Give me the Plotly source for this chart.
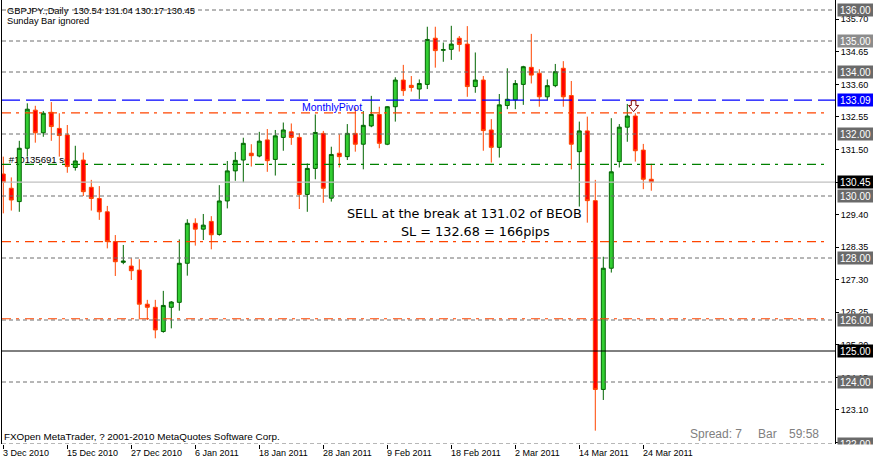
import plotly.graph_objects as go

# ---------------- data ----------------
opens = [130.71, 130.25, 129.82, 131.54, 132.77, 132.04, 132.70, 132.18, 131.97, 130.92,
         131.16, 130.28, 129.92, 129.49, 128.53, 127.86, 127.74, 127.61, 126.51, 126.41,
         125.63, 126.41, 126.57, 127.83, 129.12, 128.93, 129.18, 128.76, 129.84, 130.81,
         131.16, 131.38, 131.29, 131.81, 131.18, 131.89, 132.07, 131.89, 130.05, 130.89,
         132.02, 129.93, 131.38, 131.27, 132.02, 131.67, 132.26, 132.63, 131.67, 132.88,
         133.74, 133.57, 133.45, 133.60, 135.09, 134.70, 134.73, 135.09, 134.90, 133.53,
         133.74, 132.13, 131.57, 132.92, 133.10, 133.60, 134.15, 133.96, 133.20, 133.56,
         134.12, 133.24, 131.43, 132.10, 129.85, 123.76, 127.67, 131.11, 132.22, 132.58,
         131.48, 130.54]
highs = [131.27, 130.60, 131.78, 132.99, 132.91, 132.74, 133.03, 132.67, 132.29, 131.62,
         131.40, 130.52, 130.32, 129.68, 128.74, 128.42, 127.99, 127.96, 126.65, 126.65,
         126.94, 126.61, 128.60, 129.25, 129.28, 129.42, 129.35, 130.35, 131.13, 131.42,
         131.88, 131.67, 132.07, 132.16, 132.13, 132.37, 132.34, 132.02, 131.05, 132.63,
         132.10, 131.59, 131.99, 132.32, 132.85, 132.74, 133.23, 132.88, 132.90, 133.83,
         134.23, 133.87, 133.76, 135.46, 135.46, 134.95, 135.49, 135.16, 135.48, 134.63,
         133.87, 132.48, 133.29, 134.12, 133.74, 134.20, 135.23, 134.09, 133.76, 134.26,
         134.35, 133.71, 132.40, 132.56, 130.52, 128.04, 132.51, 132.32, 132.97, 132.67,
         131.68, 131.04]
lows = [129.44, 129.53, 129.49, 131.27, 131.72, 131.91, 131.78, 131.27, 130.75, 130.82,
        130.00, 129.53, 129.23, 128.31, 127.42, 127.80, 127.29, 126.02, 126.00, 125.41,
        125.59, 125.73, 126.30, 127.43, 128.40, 128.58, 128.28, 128.72, 129.60, 130.49,
        130.44, 130.95, 131.25, 130.78, 130.66, 131.46, 131.65, 129.58, 129.49, 130.54,
        129.78, 129.82, 130.92, 131.16, 131.43, 130.86, 132.22, 131.54, 131.64, 132.40,
        133.23, 133.37, 133.13, 133.45, 134.14, 134.33, 134.39, 134.66, 133.20, 133.33,
        131.46, 131.08, 131.24, 132.80, 132.80, 132.94, 133.63, 132.88, 133.10, 133.51,
        132.88, 130.86, 129.66, 129.14, 122.43, 123.42, 127.53, 130.92, 131.75, 131.11,
        130.22, 130.17]
closes = [130.44, 129.87, 131.54, 132.80, 132.04, 132.67, 132.24, 131.95, 130.95, 131.13,
          130.14, 129.92, 129.49, 128.53, 127.88, 127.90, 127.59, 126.51, 126.41, 125.68,
          126.47, 126.58, 127.83, 129.12, 128.93, 129.06, 128.75, 129.84, 130.81, 131.15,
          131.70, 131.30, 131.77, 131.14, 131.94, 132.13, 131.89, 130.05, 130.89, 132.05,
          130.25, 131.34, 131.27, 132.02, 131.67, 132.28, 132.63, 131.70, 132.88, 133.74,
          133.40, 133.50, 133.63, 135.05, 134.69, 134.72, 134.90, 134.89, 133.53, 133.74,
          132.11, 131.57, 132.94, 133.12, 133.63, 134.17, 133.90, 133.20, 133.56, 134.01,
          133.20, 131.67, 132.10, 129.85, 123.76, 127.67, 130.78, 132.22, 132.58, 131.46,
          130.54, 130.45]
bar_index = list(range(len(opens)))

date_tick_index = [0, 8, 16, 24, 32, 40, 48, 56, 64, 72, 80]
date_tick_labels = ["3 Dec 2010", "15 Dec 2010", "27 Dec 2010", "6 Jan 2011", "18 Jan 2011",
                    "28 Jan 2011", "9 Feb 2011", "18 Feb 2011", "2 Mar 2011", "14 Mar 2011",
                    "24 Mar 2011"]

price_ticks = [135.70, 134.65, 133.60, 132.55, 131.50, 130.45, 129.40, 128.35,
               127.30, 126.25, 125.20, 124.15, 123.10, 122.05]

level_prices = [136.00, 135.00, 134.00, 132.00, 130.00, 128.00, 126.00, 124.00, 122.00]
pivot_price = 133.09
stop_lines = [132.68, 128.53, 126.04]
entry_price = 131.02
bid_price = 130.45
round_level = 125.00
signal_bar = 79

title_text = "GBPJPY.,Daily\u00a0\u00a0130.54 131.04 130.17 130.45"

# ---------------- layout helpers ----------------
W, H = 873, 461
ML, MR, MT, MB = 2, 38, 0, 17
PW, PH = W - ML - MR, H - MT - MB


def px2paper(px):
    return (px - ML) / PW


def py2paper(py):
    return (MT + PH - py) / PH


AX_FONT = "Liberation Sans, Arial, sans-serif"

fig = go.Figure()
fig.add_trace(go.Candlestick(
    x=bar_index, open=opens, high=highs, low=lows, close=closes,
    increasing=dict(fillcolor="#32CD32", line=dict(color="#006400", width=1)),
    decreasing=dict(fillcolor="#FF0000", line=dict(color="#FF4500", width=1)),
    whiskerwidth=0, hoverinfo="skip", showlegend=False,
))

shapes = []
# order label text (drawn under the candles)
shapes.append(dict(type="rect", xref="x", yref="y", x0=0.3, x1=8.0, y0=131.0, y1=131.38,
                   line=dict(width=0), fillcolor="rgba(0,0,0,0)", layer="below",
                   label=dict(text="#10135691 se", textposition="middle left",
                              padding=0, font=dict(family=AX_FONT, size=9.6, color="black"))))
for p in level_prices:
    shapes.append(dict(type="line", xref="paper", yref="y", x0=0, x1=1, y0=p, y1=p,
                       line=dict(color="#6E6E6E", width=1, dash="4px,3px")))
shapes.append(dict(type="line", xref="paper", yref="y", x0=0, x1=1, y0=round_level, y1=round_level,
                   line=dict(color="black", width=1)))
shapes.append(dict(type="line", xref="paper", yref="y", x0=0, x1=1, y0=bid_price, y1=bid_price,
                   line=dict(color="#C0C0C0", width=1.2)))
shapes.append(dict(type="line", xref="paper", yref="y", x0=0, x1=1, y0=pivot_price, y1=pivot_price,
                   line=dict(color="#0000FF", width=1.2, dash="18px,6px")))
for p in stop_lines:
    shapes.append(dict(type="line", xref="paper", yref="y", x0=0, x1=px2paper(828), y0=p, y1=p,
                       line=dict(color="#FF4500", width=1.2, dash="9px,5px,3px,6px")))
shapes.append(dict(type="line", xref="paper", yref="y", x0=0, x1=px2paper(828), y0=entry_price,
                   y1=entry_price, line=dict(color="#008000", width=1.2, dash="9px,5px,3px,6px")))
# sell arrow above the signal bar
cx = -1.7
arrow_path = ("M {a},12.6 L {b},12.6 L {b},7.8 L {c},7.8 L {d},1.6 L {e},7.8 L {a},7.8 Z"
              .format(a=cx - 2.3, b=cx + 2.3, c=cx + 5, d=cx, e=cx - 5))
shapes.append(dict(type="path", xref="x", yref="y", xsizemode="pixel", ysizemode="pixel",
                   xanchor=signal_bar, yanchor=highs[signal_bar], path=arrow_path,
                   fillcolor="white", line=dict(color="#800000", width=1)))

annotations = []
# date labels (left aligned after their ticks)
for idx, lab in zip(date_tick_index, date_tick_labels):
    annotations.append(dict(x=idx, xref="x", y=0, yref="paper", yanchor="middle", yshift=-9,
                            xanchor="left", xshift=-2, text=lab, showarrow=False,
                            font=dict(family=AX_FONT, size=9, color="black")))
# price boxes on the right axis
box_items = [(p, "#8C8C8C" if p == 135.00 else "#6A6A6A") for p in level_prices]
box_items += [(pivot_price, "#0000FF"), (bid_price, "#000000"), (round_level, "#000000")]
for p, col in box_items:
    annotations.append(dict(x=1, xref="paper", xanchor="left", xshift=2, y=p, yref="y",
                            yanchor="middle", text=f"{p:.2f}", showarrow=False, bgcolor=col,
                            width=33, height=10, borderpad=1,
                            font=dict(family=AX_FONT, size=10, color="white")))
# clip everything below the chart bottom on the right scale
annotations.append(dict(x=1, xref="paper", xanchor="left", xshift=1, y=0, yref="paper",
                        yanchor="top", text=" ", showarrow=False, bgcolor="white",
                        width=36, height=16, borderpad=0))

def text_ann(txt, px, py, size, color="black", family=AX_FONT, anchor="left"):
    annotations.append(dict(x=px2paper(px), xref="paper", y=py2paper(py), yref="paper",
                            xanchor=anchor, yanchor="middle", text=txt, showarrow=False,
                            borderpad=0, font=dict(family=family, size=size, color=color)))

text_ann(title_text, 6, 11, 9.3)
text_ann("Sunday Bar ignored", 6, 21, 9.3)
text_ann("FXOpen MetaTrader, ? 2001-2010 MetaQuotes Software Corp.", 3, 436.5, 9.9)
text_ann("Spread: 7", 689, 434, 12, color="#808080")
text_ann("Bar", 757, 434, 12, color="#808080")
text_ann("59:58", 820, 434, 12, color="#808080", anchor="right")
text_ann("MonthlyPivot", 301, 106.5, 10.5, color="#0000FF")
text_ann("SELL at the break at 131.02 of BEOB", 345.5, 214, 12.8, family="DejaVu Sans")
text_ann("SL = 132.68 = 166pips", 400, 231, 12.8, family="DejaVu Sans")

fig.update_layout(
    width=W, height=H,
    margin=dict(l=ML, r=MR, t=MT, b=MB, pad=0, autoexpand=False),
    paper_bgcolor="white", plot_bgcolor="white",
    showlegend=False,
    boxgap=0.3, boxgroupgap=0.3,
    xaxis=dict(range=[-0.1625, -0.1625 + PW / 8.0], showgrid=False, zeroline=False,
               showline=False, tickmode="array", tickvals=date_tick_index,
               showticklabels=False, ticks="outside", ticklen=4, tickcolor="black",
               rangeslider=dict(visible=False), fixedrange=True, automargin=False),
    yaxis=dict(side="right", range=[122.0, 136.0 + 10 / 31.0], showgrid=False, zeroline=False,
               showline=True, linecolor="black", linewidth=1, mirror=True,
               tickmode="array", tickvals=price_ticks,
               ticktext=[f"{v:.2f}" for v in price_ticks], ticks="outside", ticklen=3,
               tickcolor="black", tickfont=dict(family=AX_FONT, size=9, color="black"),
               fixedrange=True, automargin=False),
    shapes=shapes,
    annotations=annotations,
)

fig.write_html("out.html", config={"displayModeBar": False},
               post_script="document.body.style.margin='0';document.body.style.padding='0';")
